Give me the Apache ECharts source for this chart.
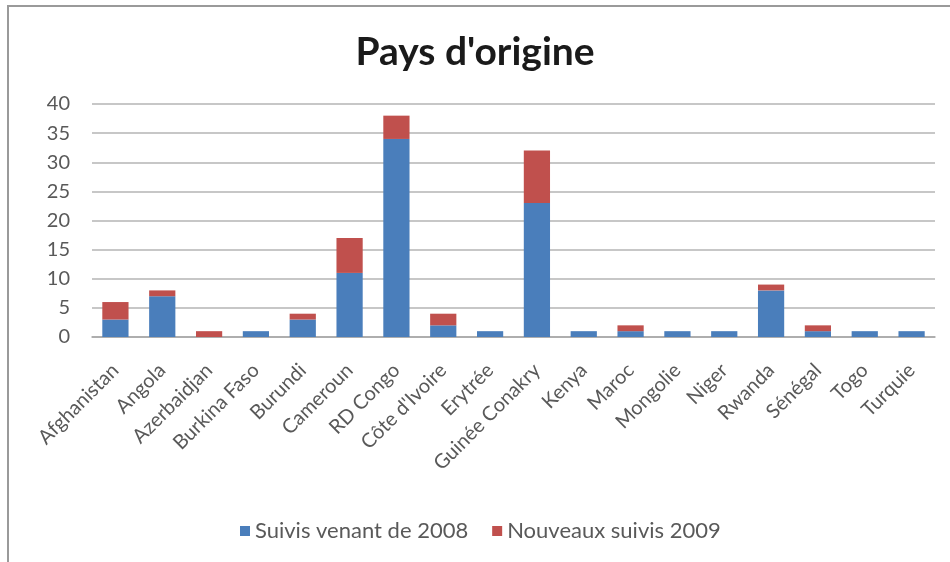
<!DOCTYPE html>
<html>
<head>
<meta charset="utf-8">
<script src="https://cdn.jsdelivr.net/npm/echarts@6/dist/echarts.min.js"></script>
<style>html,body{margin:0;padding:0;background:#fff}#c{width:950px;height:562px}</style>
</head>
<body>
<div id="c"></div>
<script>
const categories = ["Afghanistan","Angola","Azerbaidjan","Burkina Faso","Burundi","Cameroun","RD Congo","Côte d'Ivoire","Erytrée","Guinée Conakry","Kenya","Maroc","Mongolie","Niger","Rwanda","Sénégal","Togo","Turquie"];
const suivis2008 = [3,7,0,1,3,11,34,2,1,23,1,1,1,1,8,1,1,1];
const nouveaux2009 = [3,1,1,0,1,6,4,2,0,9,0,1,0,0,1,1,0,0];
const yTicks = [0,5,10,15,20,25,30,35,40];
const seriesNames = ["Suivis venant de 2008","Nouveaux suivis 2009"];

const chart = echarts.init(document.getElementById('c'), null, {renderer:'canvas'});
const font = "Lato, 'Open Sans', sans-serif";
chart.setOption({
  animation:false,
  backgroundColor:'#fff',
  title:{text:"Pays d'origine", left:'center', top:28,
    textStyle:{fontFamily:font, fontWeight:'bold', fontSize:39, color:'#1a1a1a'}},
  graphic:[{type:'rect', shape:{x:8,y:6,width:960,height:580}, style:{fill:'none', stroke:'#9a9a9a', lineWidth:2}, silent:true}],
  legend:{bottom:15, left:235, itemWidth:10, itemHeight:10, itemGap:24, icon:'rect',
    textStyle:{fontFamily:font, fontSize:22, color:'#595959'}, data:seriesNames},
  grid:{left:92, right:15, top:104, bottom:225, containLabel:false},
  xAxis:{type:'category', data:categories,
    axisLine:{lineStyle:{color:'#a6a6a6', width:1.5}}, axisTick:{show:false},
    axisLabel:{rotate:45, interval:0, fontFamily:font, fontSize:20, color:'#595959', margin:30}},
  yAxis:{type:'value', min:yTicks[0], max:yTicks[yTicks.length-1], interval:5,
    axisLine:{show:false}, axisTick:{show:false},
    axisLabel:{fontFamily:font, fontSize:20, color:'#595959', margin:22},
    splitLine:{lineStyle:{color:'#b5b5b5', width:1.5}}},
  series:[
    {name:seriesNames[0], type:'bar', stack:'a', data:suivis2008, barWidth:'56%', itemStyle:{color:'#4A7EBB'}},
    {name:seriesNames[1], type:'bar', stack:'a', data:nouveaux2009, barWidth:'56%', itemStyle:{color:'#C0504D'}}
  ]
});
</script>
</body>
</html>
